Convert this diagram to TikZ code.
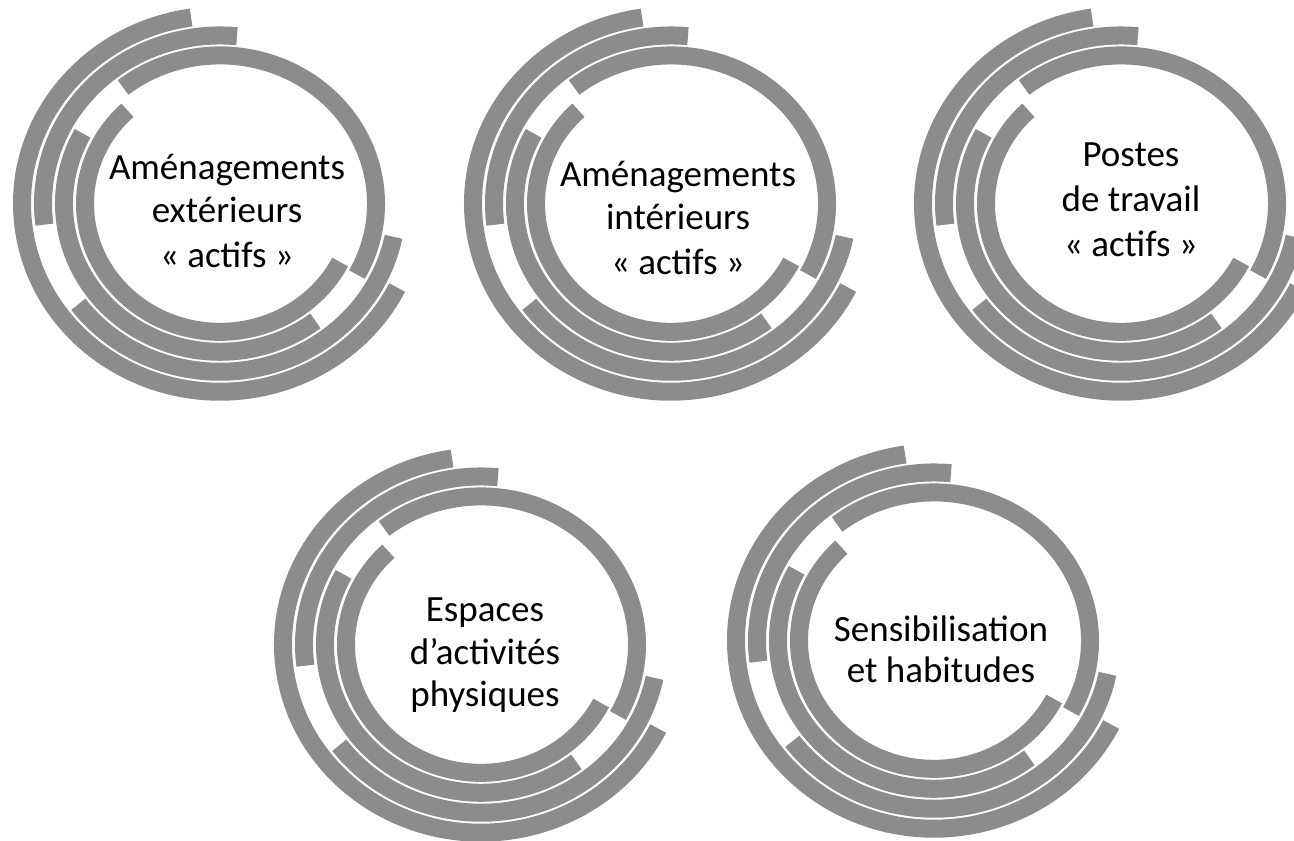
\documentclass[tikz,border=0pt]{standalone}
\usepackage{fontspec}
\setmainfont{Carlito}
\definecolor{ringgray}{RGB}{140,140,140}
\begin{document}
\begin{tikzpicture}[x=1pt,y=1pt,
  band/.style={draw=ringgray, line width=18pt},
  lbl/.style={anchor=base, inner sep=0pt, font=\fontsize{37}{44}\selectfont, text=black},
  rings/.pic={
    % outer ring (r = 198)
    \draw[band] (98.4:198 and 188.1) arc[start angle=98.4, end angle=333.5, x radius=198, y radius=188.1];
    % ring r = 177
    \draw[band] (84.5:177 and 168.15) arc[start angle=84.5, end angle=187.2, x radius=177, y radius=168.15];
    \draw[band] (216.8:177 and 168.15) arc[start angle=216.8, end angle=348.6, x radius=177, y radius=168.15];
    % ring r = 156
    \draw[band] (-28.6:156 and 148.2) arc[start angle=-28.6, end angle=128.4, x radius=156, y radius=148.2];
    \draw[band] (151.7:156 and 148.2) arc[start angle=151.7, end angle=307.7, x radius=156, y radius=148.2];
    % inner ring r = 135
    \draw[band] (133.3:135 and 128.25) arc[start angle=133.3, end angle=332.9, x radius=135, y radius=128.25];
  }]
\useasboundingbox (0,0) rectangle (1294,841);
\fill[white] (0,0) rectangle (1294,841);

\pic (ringsA) at (220,637.4) {rings};
\pic (ringsB) at (671,637.4) {rings};
\pic (ringsC) at (1121,637.4) {rings};
\pic (ringsD) at (481,196.4) {rings};
\pic (ringsE) at (934,200.4) {rings};

\node[lbl] (t1a) at (227,661) {Aménagements};
\node[lbl] (t1b) at (227,618) {extérieurs};
\node[lbl] (t1c) at (227,573) {«~actifs~»};

\node[lbl] (t2a) at (678,654) {Aménagements};
\node[lbl] (t2b) at (678,611) {intérieurs};
\node[lbl] (t2c) at (678,566) {«~actifs~»};

\node[lbl] (t3a) at (1131,674) {Postes};
\node[lbl] (t3b) at (1131,629) {de travail};
\node[lbl] (t3c) at (1131,584) {«~actifs~»};

\node[lbl] (t4a) at (485,219) {Espaces};
\node[lbl] (t4b) at (485,176) {d’activités};
\node[lbl] (t4c) at (485,134) {physiques};

\node[lbl] (t5a) at (941,199) {Sensibilisation};
\node[lbl] (t5b) at (941,158) {et habitudes};
\end{tikzpicture}
\end{document}
